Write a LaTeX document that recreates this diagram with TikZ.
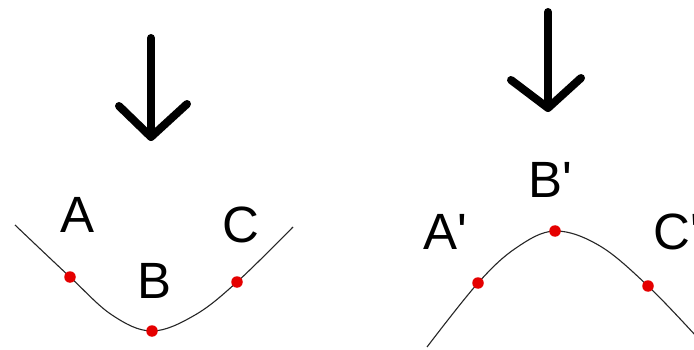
\documentclass[tikz,border=0pt]{standalone}
\usepackage{fontspec}
\newfontfamily\labfont{Liberation Sans}
\begin{document}
\begin{tikzpicture}[x=1pt,y=-1pt,
  arrowline/.style={line width=8pt,line cap=round,line join=round},
  curveline/.style={line width=1.1pt,black!85},
  dot/.style={circle,fill=red!90!black,inner sep=0pt,minimum size=11.5pt},
  lab/.style={font=\labfont\fontsize{51}{60}\selectfont,inner sep=0pt,anchor=base west}]
\useasboundingbox[fill=white] (0,0) rectangle (694,350);
\clip (0,0) rectangle (694,350);
% left arrow
\coordinate (la1) at (151,38);
\coordinate (la2) at (151,137);
\coordinate (la3) at (119,106);
\coordinate (la4) at (187,104);
\draw[arrowline] (la1) -- (la2);
\draw[arrowline] (la3) -- (la2) -- (la4);
% right arrow
\coordinate (ra1) at (548,12);
\coordinate (ra2) at (548,108);
\coordinate (ra3) at (511,80);
\coordinate (ra4) at (581,78);
\draw[arrowline] (ra1) -- (ra2);
\draw[arrowline] (ra3) -- (ra2) -- (ra4);
% left curve
\draw[curveline] plot[smooth,tension=0.6] coordinates {(15,225) (70,277) (112,315) (152,331) (195,315) (237,282) (293,227)};
\node[dot] (A) at (70,277) {};
\node[dot] (B) at (152,331) {};
\node[dot] (C) at (237,282) {};
\node[lab] (lA) at (60,233) {A};
\node[lab] (lB) at (137,298) {B};
\node[lab] (lC) at (222,242) {C};
% right curve
\draw[curveline] plot[smooth,tension=0.6] coordinates {(427,347) (478,283) (516,248) (555,231) (600,246) (648,286) (696,336)};
\node[dot] (A2) at (478,283) {};
\node[dot] (B2) at (555,231) {};
\node[dot] (C2) at (648,286) {};
\node[lab] (lA2) at (423,250) {A\textquotesingle};
\node[lab] (lB2) at (528,197) {B\textquotesingle};
\node[lab] (lC2) at (653,250) {C\textquotesingle};
\end{tikzpicture}
\end{document}
